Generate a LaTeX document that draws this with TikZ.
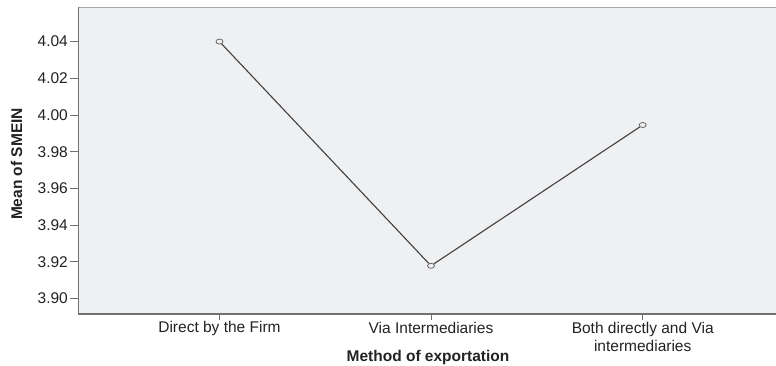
\documentclass[tikz,border=0pt]{standalone}
\usepackage{fontspec}
\usetikzlibrary{shapes.geometric}
\setmainfont{Liberation Sans}
\definecolor{plotbg}{HTML}{EFF0F2}
\definecolor{axisc}{HTML}{707070}
\definecolor{topc}{HTML}{A8A8A8}
\definecolor{linec}{HTML}{404040}
\definecolor{txtc}{HTML}{222222}
\begin{document}
\begin{tikzpicture}[x=1pt,y=-1pt,
  lbl/.style={font=\fontsize{15.5}{18}\selectfont, text=txtc, inner sep=0pt},
  ttl/.style={font=\fontsize{15.5}{18}\selectfont\bfseries, text=txtc, inner sep=0pt},
  marker/.style={draw=linec!80, ellipse, minimum width=7pt, minimum height=5pt, inner sep=0pt, line width=0.8pt},
  dataline/.style={draw=linec, line width=1.1pt},
  tickmark/.style={draw=axisc, line width=0.9pt}]
\useasboundingbox (0,0) rectangle (776,366);
% plot area
\fill[plotbg] (78.5,7.5) rectangle (776,314);
\draw[topc, line width=1.5pt] (78.5,7.5) -- (776,7.5);
\draw[axisc, line width=1.2pt] (78.5,7.5) -- (78.5,314) -- (776,314);
% y ticks
\foreach \v/\t in {0/4.04,1/4.02,2/4.00,3/3.98,4/3.96,5/3.94,6/3.92,7/3.90}{
  \pgfmathsetmacro{\yy}{41.6+\v*36.7}
  \draw[tickmark] (70,\yy) -- (78.5,\yy);
  \node[lbl, anchor=east] (yt\v) at (68,\yy) {\t};
}
% x ticks
\foreach \x/\n in {219.5/a,431/b,642.7/c}{
  \draw[tickmark] (\x,314) -- (\x,320);
}
\node[lbl] (xa) at (219.5,328) {Direct by the Firm};
\node[lbl] (xb) at (431,328) {Via Intermediaries};
\node[lbl, align=center, font=\fontsize{15.5}{18}\selectfont] (xc) at (642.7,337) {Both directly and Via\\intermediaries};
\node[ttl] (xtitle) at (428,357) {Method of exportation};
\node[ttl, rotate=90] (ytitle) at (16.5,164) {Mean of SMEIN};
% data
\node[marker] (p1) at (219.5,41.6) {};
\node[marker] (p2) at (431,265.8) {};
\node[marker] (p3) at (642.7,125) {};
\draw[dataline] (p1) -- (p2) -- (p3);
\end{tikzpicture}
\end{document}
